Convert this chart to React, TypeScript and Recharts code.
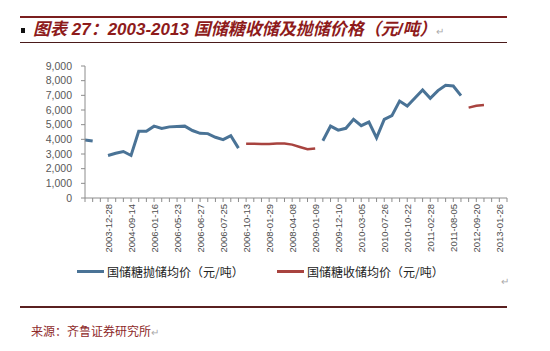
import { LineChart, Line, XAxis, YAxis } from 'recharts';

// tick labels shown under the x axis (every 3rd category)
const tickLabels = [
  '2003-12-28', '2004-09-14', '2006-01-16', '2006-05-23', '2006-06-27', '2006-07-25',
  '2006-10-13', '2008-01-29', '2008-04-08', '2009-01-09', '2009-12-10', '2010-03-05',
  '2010-07-26', '2010-10-22', '2011-02-28', '2011-08-05', '2012-09-20', '2013-01-26',
];

// 国储糖抛储均价 (元/吨), one value per category, null = no auction
const sellPrices: (number | null)[] = [
  3950, 3880, null, 2900, 3050, 3170, 2900, 4550, 4550, 4900,
  4740, 4850, 4880, 4900, 4600, 4410, 4390, 4140, 3980, 4250,
  3400, null, null, null, null, null, null, null, null, null,
  null, 3900, 4900, 4630, 4750, 5360, 4930, 5180, 4100, 5360,
  5610, 6610, 6270, 6820, 7370, 6800, 7320, 7690, 7640, 6980,
  null, null, null, null, null, null,
];

// 国储糖收储均价 (元/吨)
const buyPrices: (number | null)[] = [
  null, null, null, null, null, null, null, null, null, null,
  null, null, null, null, null, null, null, null, null, null,
  null, 3700, 3700, 3690, 3690, 3720, 3720, 3640, 3480, 3330,
  3380, null, null, null, null, null, null, null, null, null,
  null, null, null, null, null, null, null, null, null, null,
  6160, 6290, 6340, null, null, null,
];

const yTicks = [0, 1000, 2000, 3000, 4000, 5000, 6000, 7000, 8000, 9000];

const series = [
  { key: 'sell', name: '国储糖抛储均价（元/吨）', color: '#4A7396', width: 3 },
  { key: 'buy', name: '国储糖收储均价（元/吨）', color: '#A8433F', width: 2.5 },
];

const data = sellPrices.map((v, i) => ({ idx: i, sell: v, buy: buyPrices[i] }));

const labelFor = (i: number) => (i > 0 && i % 3 === 0 ? tickLabels[i / 3 - 1] ?? '' : '');

const DateTick = ({ x, y, payload }: any) => {
  const text = labelFor(Number(payload.value));
  if (!text) return null;
  return (
    <text
      x={x}
      y={y}
      transform={`rotate(-90, ${x}, ${y})`}
      textAnchor="end"
      dominantBaseline="central"
      fontSize={9.5}
      fill="#4d4d4d"
      fontFamily="'Liberation Sans', Arial, sans-serif"
    >
      {text}
    </text>
  );
};

const RET = '↵';

export default function App() {
  return (
    <div
      style={{
        position: 'absolute',
        left: 0,
        top: 0,
        width: 550,
        height: 351,
        background: '#fff',
        overflow: 'hidden',
        fontFamily: "'Liberation Sans', 'Noto Sans CJK SC', sans-serif",
      }}
    >
      {/* title block */}
      <div style={{ position: 'absolute', left: 20, top: 16, width: 487, height: 2, background: '#7B1F1F' }} />
      <div style={{ position: 'absolute', left: 21, top: 28, width: 4, height: 5, background: '#111' }} />
      <div
        style={{
          position: 'absolute',
          left: 33,
          top: 20,
          fontSize: 17,
          lineHeight: '20px',
          fontWeight: 'bold',
          fontStyle: 'italic',
          color: '#8E1B1B',
          whiteSpace: 'nowrap',
          fontFamily: "'Liberation Sans', 'Noto Sans CJK SC', sans-serif",
        }}
      >
        图表 27：2003-2013 国储糖收储及抛储价格（元/吨）
        <span style={{ fontSize: 10, color: '#aaa', fontWeight: 'normal', fontStyle: 'normal' }}>{RET}</span>
      </div>
      <div style={{ position: 'absolute', left: 20, top: 42, width: 487, height: 1, background: '#4a1a1a' }} />

      <div style={{ position: 'absolute', left: 0, top: 0 }}>
        <LineChart width={550} height={351} data={data} margin={{ top: 66, right: 43, left: 0, bottom: 93 }}>
          <XAxis
            dataKey="idx"
            type="category"
            interval={0}
            height={60}
            tick={<DateTick />}
            tickSize={4}
            tickMargin={2}
            axisLine={{ stroke: '#8c8c8c' }}
            tickLine={{ stroke: '#8c8c8c' }}
          />
          <YAxis
            width={85}
            domain={[0, 9000]}
            ticks={yTicks}
            interval={0}
            tickFormatter={(v: number) => v.toLocaleString('en-US')}
            tick={{ fill: '#595959', fontSize: 10.5 }}
            tickSize={4}
            tickMargin={9}
            axisLine={{ stroke: '#8c8c8c' }}
            tickLine={{ stroke: '#8c8c8c' }}
          />
          {series.map((s) => (
            <Line
              key={s.key}
              type="linear"
              dataKey={s.key}
              name={s.name}
              stroke={s.color}
              strokeWidth={s.width}
              dot={false}
              activeDot={false}
              isAnimationActive={false}
            />
          ))}
        </LineChart>
      </div>

      {/* legend */}
      {series.map((s, i) => (
        <div
          key={s.key}
          style={{
            position: 'absolute',
            left: i === 0 ? 77 : 277,
            top: 263,
            display: 'flex',
            alignItems: 'center',
            whiteSpace: 'nowrap',
            fontSize: 12,
            color: '#222',
            fontFamily: "'Noto Sans CJK SC', sans-serif",
          }}
        >
          <span style={{ display: 'inline-block', width: 27, height: 2.5, background: s.color, marginRight: 3 }} />
          {s.name}
        </div>
      ))}
      <div style={{ position: 'absolute', left: 501, top: 276, fontSize: 10, color: '#aaa' }}>{RET}</div>

      {/* source */}
      <div style={{ position: 'absolute', left: 20, top: 306, width: 487, height: 1.5, background: '#5a2020' }} />
      <div
        style={{
          position: 'absolute',
          left: 31,
          top: 322,
          fontSize: 12,
          color: '#8E2A2A',
          whiteSpace: 'nowrap',
          fontFamily: "'Noto Sans CJK SC', sans-serif",
        }}
      >
        来源：齐鲁证券研究所
        <span style={{ fontSize: 10, color: '#aaa' }}>{RET}</span>
      </div>
    </div>
  );
}
